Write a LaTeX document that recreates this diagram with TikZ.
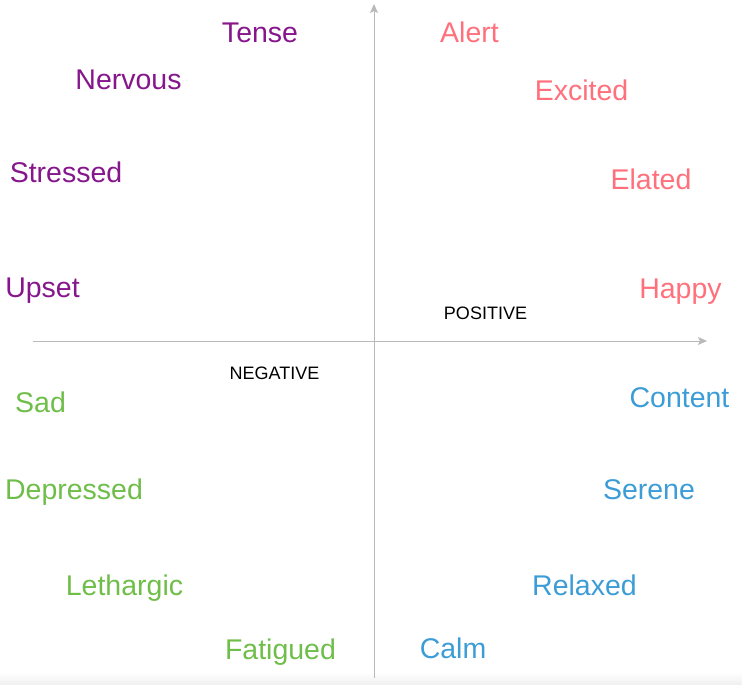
\documentclass[tikz,border=0pt]{standalone}
\usepackage{fontspec}
\setmainfont{Liberation Sans}
\usetikzlibrary{arrows.meta}
\definecolor{moodpurple}{RGB}{134,22,140}
\definecolor{moodpink}{RGB}{255,112,124}
\definecolor{moodgreen}{RGB}{112,190,74}
\definecolor{moodblue}{RGB}{60,157,214}
\definecolor{axisgray}{RGB}{185,185,185}
\begin{document}
\begin{tikzpicture}[x=1pt,y=-1pt,
				mood/.style={anchor=base,inner sep=0pt,font=\fontsize{28.5}{30}\selectfont},
				tense/.style={mood,text=moodpurple},
				alert/.style={mood,text=moodpink},
				tired/.style={mood,text=moodgreen},
				calm/.style={mood,text=moodblue},
				pole/.style={anchor=base,inner sep=0pt,font=\fontsize{18}{20}\selectfont},
				axis/.style={draw=axisgray,line width=0.9pt,-{Stealth[length=9pt,width=8pt,inset=2pt]}}]
				\useasboundingbox (0,0) rectangle (742,685);
				\shade[top color=white,bottom color=black!6] (0,672) rectangle (742,685);
				% axes
				\coordinate (bottom) at (374,678);
				\coordinate (top) at (374,4);
				\coordinate (left) at (33,341);
				\coordinate (right) at (707,341);
				\draw[axis] (bottom) -- (top);
				\draw[axis] (left) -- (right);
				\node[pole] (positive) at (485.5,319) {POSITIVE};
				\node[pole] (negative) at (274.5,379) {NEGATIVE};
				% upper left
				\node[tense] (tense) at (260,43) {Tense};
				\node[tense] (nervous) at (128.5,90) {Nervous};
				\node[tense] (stressed) at (66,182) {Stressed};
				\node[tense] (upset) at (42.5,297) {Upset};
				% upper right
				\node[alert] (alert) at (469.5,43) {Alert};
				\node[alert] (excited) at (581.5,100) {Excited};
				\node[alert] (elated) at (651,189) {Elated};
				\node[alert] (happy) at (680.5,298) {Happy};
				% lower left
				\node[tired] (sad) at (40.5,412) {Sad};
				\node[tired] (depressed) at (74,499) {Depressed};
				\node[tired] (lethargic) at (124.5,595) {Lethargic};
				\node[tired] (fatigued) at (280.5,659) {Fatigued};
				% lower right
				\node[calm] (content) at (679.5,407) {Content};
				\node[calm] (serene) at (649,499) {Serene};
				\node[calm] (relaxed) at (584.5,595) {Relaxed};
				\node[calm] (calmnode) at (453,658) {Calm};
\end{tikzpicture}
\end{document}
